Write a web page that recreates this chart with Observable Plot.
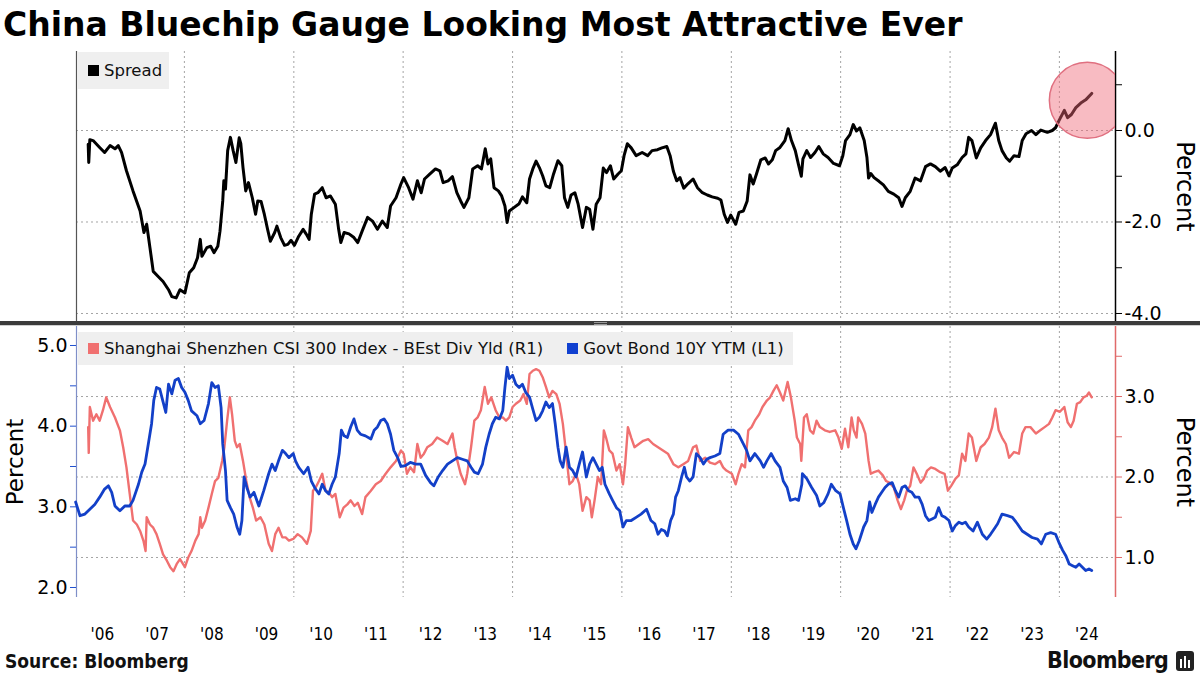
<!DOCTYPE html>
<html><head><meta charset="utf-8">
<script src="https://cdn.jsdelivr.net/npm/d3@7"></script>
<script src="https://cdn.jsdelivr.net/npm/@observablehq/plot@0.6"></script>
<style>
body{margin:0;background:#fff;}
#wrap{position:relative;width:1200px;height:675px;overflow:hidden;font-family:"DejaVu Sans",sans-serif;background:#fff;}
.abs{position:absolute;}
.leg{position:absolute;background:#efefef;font-size:16.5px;color:#111;display:flex;align-items:center;white-space:nowrap;}
.sw{display:inline-block;width:11px;height:11px;margin:0 5px 0 10px;}
</style></head><body><div id="wrap">
<div class="abs" style="left:3px;top:8px;font-size:33px;line-height:33px;font-weight:bold;color:#000;white-space:nowrap;">China Bluechip Gauge Looking Most Attractive Ever</div>
<div id="topChart" class="abs" style="left:0;top:45px;"></div>
<div id="botRed" class="abs" style="left:0;top:320px;"></div>
<div id="botBlue" class="abs" style="left:0;top:320px;"></div>
<div class="abs" style="left:0;top:321px;width:1200px;height:4px;background:#3b3b3b;"></div>
<div class="abs" style="left:0;top:325px;width:1200px;height:1px;background:#cfcfcf;"></div>
<div class="abs" style="left:594px;top:322px;width:13px;height:1px;background:#999;"></div>
<div class="abs" style="left:594px;top:324px;width:13px;height:1px;background:#999;"></div>
<div class="leg" style="left:78px;top:52px;width:91px;height:37px;"><span class="sw" style="background:#000"></span>Spread</div>
<div class="leg" style="left:78px;top:332px;width:715px;height:33px;"><span class="sw" style="background:#f07070"></span>Shanghai Shenzhen CSI 300 Index - BEst Div Yld (R1)<span class="sw" style="background:#1040d0;margin-left:24px"></span>Govt Bond 10Y YTM (L1)</div>
<div class="abs" style="left:5px;top:650px;font-family:'DejaVu Sans Condensed','DejaVu Sans';font-weight:bold;font-size:19px;color:#111;">Source: Bloomberg</div>
<div class="abs" style="left:1047px;top:647px;font-family:'DejaVu Sans Condensed','DejaVu Sans';font-weight:bold;font-size:23px;color:#111;letter-spacing:-0.6px;">Bloomberg</div>
<svg class="abs" style="left:1176px;top:651px" width="20" height="22"><rect x="0" y="0" width="18" height="20" rx="3" fill="#222"/><rect x="4" y="8" width="2" height="9" fill="#fff"/><rect x="8" y="5" width="2" height="12" fill="#fff"/><rect x="12" y="9" width="2" height="8" fill="#fff"/></svg>
</div>
<script>
// ---- data (decimal year, value) ----
const spread = [[2006.24,-0.30],[2006.25,-0.70],[2006.27,-0.20],[2006.33,-0.22],[2006.45,-0.37],[2006.54,-0.48],[2006.64,-0.33],[2006.73,-0.40],[2006.79,-0.33],[2006.85,-0.48],[2006.94,-0.88],[2007.06,-1.32],[2007.19,-1.76],[2007.26,-2.23],[2007.31,-2.05],[2007.37,-2.56],[2007.43,-3.08],[2007.52,-3.19],[2007.61,-3.30],[2007.71,-3.48],[2007.77,-3.63],[2007.85,-3.66],[2007.92,-3.48],[2008.01,-3.55],[2008.09,-3.11],[2008.17,-3.00],[2008.24,-2.78],[2008.29,-2.38],[2008.32,-2.75],[2008.41,-2.56],[2008.48,-2.53],[2008.54,-2.67],[2008.61,-2.53],[2008.65,-2.20],[2008.70,-1.54],[2008.72,-1.10],[2008.75,-1.28],[2008.79,-0.44],[2008.84,-0.15],[2008.89,-0.44],[2008.94,-0.70],[2009.00,-0.16],[2009.03,-0.29],[2009.07,-0.81],[2009.12,-1.32],[2009.17,-1.14],[2009.24,-1.47],[2009.30,-1.83],[2009.34,-1.54],[2009.40,-1.55],[2009.46,-1.83],[2009.52,-2.16],[2009.57,-2.42],[2009.65,-2.23],[2009.69,-2.09],[2009.76,-2.34],[2009.83,-2.51],[2009.89,-2.49],[2009.95,-2.40],[2010.01,-2.51],[2010.09,-2.31],[2010.17,-2.16],[2010.23,-2.27],[2010.28,-2.38],[2010.32,-1.83],[2010.38,-1.39],[2010.44,-1.36],[2010.52,-1.25],[2010.59,-1.47],[2010.67,-1.43],[2010.76,-1.61],[2010.82,-2.16],[2010.86,-2.45],[2010.92,-2.23],[2011.01,-2.26],[2011.10,-2.34],[2011.17,-2.45],[2011.25,-2.20],[2011.35,-1.90],[2011.44,-1.98],[2011.53,-2.16],[2011.62,-1.98],[2011.71,-2.12],[2011.77,-1.65],[2011.87,-1.47],[2011.96,-1.17],[2012.01,-1.03],[2012.10,-1.25],[2012.18,-1.50],[2012.26,-1.10],[2012.33,-1.36],[2012.39,-1.06],[2012.49,-0.95],[2012.59,-0.84],[2012.67,-0.88],[2012.73,-1.14],[2012.82,-1.10],[2012.90,-1.01],[2012.98,-1.36],[2013.05,-1.54],[2013.11,-1.68],[2013.20,-1.47],[2013.27,-0.84],[2013.36,-0.77],[2013.43,-0.84],[2013.50,-0.40],[2013.55,-0.73],[2013.60,-0.62],[2013.66,-1.25],[2013.74,-1.32],[2013.80,-1.43],[2013.86,-1.65],[2013.90,-2.01],[2013.94,-1.76],[2014.03,-1.68],[2014.12,-1.60],[2014.18,-1.45],[2014.26,-1.58],[2014.31,-1.06],[2014.37,-0.84],[2014.43,-0.67],[2014.49,-0.81],[2014.55,-0.99],[2014.61,-1.21],[2014.68,-1.25],[2014.75,-0.95],[2014.83,-0.66],[2014.90,-0.77],[2014.95,-1.47],[2015.01,-1.68],[2015.07,-1.41],[2015.14,-1.36],[2015.20,-1.61],[2015.28,-2.12],[2015.35,-1.68],[2015.41,-1.72],[2015.47,-2.16],[2015.53,-1.61],[2015.60,-1.47],[2015.66,-0.82],[2015.72,-0.92],[2015.79,-0.77],[2015.85,-1.06],[2015.93,-0.95],[2015.99,-0.88],[2016.04,-0.55],[2016.10,-0.29],[2016.17,-0.38],[2016.26,-0.55],[2016.37,-0.48],[2016.47,-0.55],[2016.55,-0.44],[2016.65,-0.42],[2016.73,-0.38],[2016.82,-0.35],[2016.88,-0.55],[2016.94,-0.89],[2017.00,-1.10],[2017.06,-1.03],[2017.13,-1.26],[2017.21,-1.16],[2017.30,-1.06],[2017.38,-1.25],[2017.47,-1.36],[2017.56,-1.41],[2017.65,-1.45],[2017.75,-1.48],[2017.81,-1.52],[2017.87,-1.83],[2017.93,-2.01],[2017.99,-1.85],[2018.08,-2.05],[2018.14,-1.79],[2018.22,-1.76],[2018.29,-1.54],[2018.34,-0.97],[2018.40,-1.17],[2018.46,-0.95],[2018.54,-0.64],[2018.62,-0.60],[2018.68,-0.73],[2018.75,-0.64],[2018.81,-0.44],[2018.89,-0.37],[2018.98,-0.22],[2019.04,0.04],[2019.10,-0.22],[2019.17,-0.44],[2019.23,-0.75],[2019.28,-1.00],[2019.31,-0.62],[2019.38,-0.44],[2019.45,-0.59],[2019.53,-0.48],[2019.60,-0.35],[2019.68,-0.51],[2019.77,-0.59],[2019.87,-0.72],[2019.98,-0.77],[2020.04,-0.55],[2020.09,-0.22],[2020.17,-0.09],[2020.23,0.13],[2020.29,-0.01],[2020.35,0.06],[2020.43,-0.22],[2020.48,-0.59],[2020.51,-1.04],[2020.55,-0.94],[2020.61,-1.03],[2020.70,-1.11],[2020.78,-1.19],[2020.87,-1.33],[2020.97,-1.39],[2021.06,-1.47],[2021.12,-1.66],[2021.18,-1.47],[2021.27,-1.33],[2021.36,-1.04],[2021.46,-1.10],[2021.55,-0.79],[2021.64,-0.73],[2021.73,-0.79],[2021.82,-0.89],[2021.91,-0.81],[2021.98,-0.99],[2022.04,-0.82],[2022.13,-0.75],[2022.22,-0.59],[2022.29,-0.51],[2022.34,-0.15],[2022.40,-0.22],[2022.48,-0.60],[2022.56,-0.38],[2022.65,-0.22],[2022.74,-0.09],[2022.83,0.16],[2022.89,-0.22],[2022.95,-0.44],[2023.03,-0.60],[2023.09,-0.67],[2023.17,-0.55],[2023.26,-0.57],[2023.32,-0.22],[2023.39,-0.07],[2023.49,0.00],[2023.57,-0.09],[2023.66,0.01],[2023.78,-0.04],[2023.87,0.00],[2023.93,0.06],[2023.99,0.21],[2024.09,0.44],[2024.15,0.28],[2024.22,0.35],[2024.30,0.50],[2024.39,0.60],[2024.48,0.67],[2024.59,0.81]];

const divYield = [[2006.24,2.62],[2006.25,2.30],[2006.27,2.87],[2006.33,2.70],[2006.39,2.78],[2006.45,2.70],[2006.51,2.83],[2006.57,2.99],[2006.64,2.87],[2006.73,2.74],[2006.82,2.58],[2006.88,2.37],[2006.94,2.12],[2007.00,1.79],[2007.06,1.46],[2007.13,1.41],[2007.19,1.33],[2007.25,1.21],[2007.29,1.08],[2007.31,1.50],[2007.37,1.41],[2007.43,1.37],[2007.49,1.29],[2007.55,1.17],[2007.61,1.04],[2007.68,0.96],[2007.74,0.88],[2007.80,0.83],[2007.86,0.92],[2007.92,0.98],[2008.01,0.88],[2008.07,1.00],[2008.13,1.08],[2008.20,1.21],[2008.26,1.29],[2008.29,1.50],[2008.32,1.37],[2008.38,1.46],[2008.44,1.62],[2008.50,1.79],[2008.56,1.95],[2008.62,1.99],[2008.69,2.20],[2008.73,2.37],[2008.78,2.70],[2008.83,2.99],[2008.87,2.78],[2008.92,2.45],[2008.96,2.37],[2009.01,2.41],[2009.07,2.20],[2009.13,1.95],[2009.19,1.75],[2009.25,1.62],[2009.31,1.46],[2009.39,1.50],[2009.46,1.41],[2009.54,1.17],[2009.60,1.08],[2009.66,1.29],[2009.72,1.37],[2009.79,1.25],[2009.85,1.25],[2009.91,1.21],[2009.99,1.23],[2010.07,1.29],[2010.15,1.25],[2010.24,1.17],[2010.31,1.33],[2010.35,1.83],[2010.40,1.87],[2010.46,1.95],[2010.52,2.04],[2010.58,1.83],[2010.64,1.81],[2010.70,1.75],[2010.76,1.79],[2010.84,1.50],[2010.91,1.62],[2010.98,1.66],[2011.04,1.71],[2011.11,1.64],[2011.17,1.68],[2011.25,1.54],[2011.31,1.75],[2011.41,1.83],[2011.50,1.91],[2011.59,1.95],[2011.68,2.04],[2011.77,2.12],[2011.87,2.20],[2011.96,2.33],[2012.01,2.29],[2012.07,2.04],[2012.13,2.12],[2012.20,2.06],[2012.26,2.41],[2012.32,2.24],[2012.38,2.29],[2012.44,2.37],[2012.53,2.41],[2012.62,2.49],[2012.72,2.45],[2012.81,2.41],[2012.90,2.54],[2012.94,2.37],[2012.99,2.20],[2013.05,2.04],[2013.13,1.91],[2013.17,2.04],[2013.24,2.37],[2013.30,2.70],[2013.36,2.74],[2013.42,2.83],[2013.49,3.12],[2013.55,2.91],[2013.61,2.99],[2013.69,2.83],[2013.76,2.74],[2013.82,2.74],[2013.88,2.70],[2013.94,2.74],[2014.00,2.87],[2014.06,2.91],[2014.14,2.95],[2014.20,3.03],[2014.26,2.91],[2014.31,3.28],[2014.37,3.32],[2014.43,3.34],[2014.49,3.32],[2014.55,3.24],[2014.61,3.12],[2014.67,2.99],[2014.73,3.07],[2014.80,3.03],[2014.86,2.91],[2014.92,2.66],[2014.98,2.29],[2015.04,1.91],[2015.10,1.95],[2015.16,2.04],[2015.22,1.91],[2015.28,1.58],[2015.35,1.75],[2015.41,1.71],[2015.45,1.50],[2015.50,1.71],[2015.56,2.00],[2015.62,1.91],[2015.67,2.58],[2015.71,2.49],[2015.77,2.33],[2015.83,2.29],[2015.90,2.08],[2015.96,2.16],[2016.02,1.91],[2016.06,2.16],[2016.11,2.62],[2016.17,2.49],[2016.23,2.37],[2016.31,2.41],[2016.39,2.45],[2016.48,2.47],[2016.57,2.41],[2016.66,2.37],[2016.75,2.33],[2016.84,2.29],[2016.94,2.16],[2017.03,2.12],[2017.12,2.16],[2017.21,2.20],[2017.30,2.37],[2017.36,2.39],[2017.43,2.20],[2017.52,2.24],[2017.61,2.18],[2017.70,2.16],[2017.79,2.20],[2017.85,2.12],[2017.91,2.08],[2018.01,2.04],[2018.08,1.91],[2018.13,2.04],[2018.19,2.16],[2018.25,2.12],[2018.31,2.58],[2018.37,2.62],[2018.43,2.70],[2018.51,2.78],[2018.57,2.87],[2018.65,2.95],[2018.71,2.99],[2018.77,3.07],[2018.83,3.14],[2018.89,3.05],[2018.95,2.95],[2019.03,3.18],[2019.09,2.99],[2019.16,2.70],[2019.20,2.49],[2019.26,2.41],[2019.28,2.20],[2019.33,2.74],[2019.38,2.78],[2019.44,2.58],[2019.50,2.54],[2019.56,2.70],[2019.62,2.62],[2019.71,2.58],[2019.80,2.56],[2019.90,2.58],[2019.96,2.49],[2020.02,2.35],[2020.08,2.60],[2020.14,2.37],[2020.20,2.74],[2020.24,2.58],[2020.29,2.49],[2020.32,2.74],[2020.39,2.66],[2020.45,2.54],[2020.51,2.20],[2020.55,2.04],[2020.61,2.06],[2020.69,2.08],[2020.77,2.02],[2020.83,1.95],[2020.89,1.93],[2020.97,1.87],[2021.04,1.71],[2021.10,1.60],[2021.16,1.71],[2021.21,1.83],[2021.27,1.89],[2021.33,2.12],[2021.39,2.04],[2021.46,1.93],[2021.52,1.98],[2021.58,2.08],[2021.65,2.12],[2021.73,2.10],[2021.82,2.06],[2021.90,2.04],[2021.96,1.83],[2022.02,1.89],[2022.10,1.98],[2022.16,2.02],[2022.22,2.29],[2022.28,2.20],[2022.34,2.54],[2022.40,2.49],[2022.48,2.20],[2022.56,2.37],[2022.63,2.41],[2022.71,2.49],[2022.77,2.62],[2022.83,2.85],[2022.89,2.58],[2022.95,2.49],[2023.02,2.41],[2023.08,2.24],[2023.17,2.31],[2023.26,2.29],[2023.32,2.54],[2023.38,2.62],[2023.47,2.62],[2023.57,2.54],[2023.65,2.58],[2023.73,2.62],[2023.81,2.66],[2023.87,2.74],[2023.93,2.83],[2024.01,2.81],[2024.09,2.87],[2024.15,2.68],[2024.21,2.62],[2024.26,2.70],[2024.32,2.91],[2024.38,2.93],[2024.44,2.99],[2024.50,3.01],[2024.54,3.05],[2024.59,2.99]];

const bondYield = [[2006.01,3.06],[2006.09,2.89],[2006.18,2.91],[2006.27,2.97],[2006.36,3.03],[2006.45,3.12],[2006.54,3.22],[2006.61,3.26],[2006.67,3.18],[2006.73,3.01],[2006.82,2.95],[2006.91,3.01],[2007.00,3.01],[2007.06,3.08],[2007.16,3.28],[2007.22,3.43],[2007.28,3.53],[2007.34,3.78],[2007.40,4.03],[2007.44,4.32],[2007.49,4.48],[2007.55,4.46],[2007.61,4.30],[2007.66,4.17],[2007.71,4.52],[2007.77,4.40],[2007.83,4.57],[2007.89,4.59],[2007.95,4.48],[2008.01,4.42],[2008.07,4.32],[2008.13,4.19],[2008.23,4.13],[2008.29,4.03],[2008.36,4.07],[2008.44,4.28],[2008.50,4.54],[2008.56,4.48],[2008.62,4.50],[2008.67,4.23],[2008.70,3.78],[2008.75,3.45],[2008.78,3.08],[2008.84,2.99],[2008.90,2.91],[2008.96,2.75],[2009.01,2.66],[2009.05,2.83],[2009.09,3.37],[2009.14,3.24],[2009.20,3.12],[2009.27,3.18],[2009.36,3.01],[2009.45,3.20],[2009.54,3.41],[2009.60,3.53],[2009.66,3.45],[2009.72,3.57],[2009.79,3.70],[2009.85,3.66],[2009.91,3.61],[2009.99,3.66],[2010.03,3.57],[2010.09,3.49],[2010.18,3.41],[2010.26,3.49],[2010.32,3.32],[2010.38,3.24],[2010.46,3.16],[2010.52,3.28],[2010.58,3.20],[2010.64,3.16],[2010.70,3.28],[2010.76,3.37],[2010.83,3.66],[2010.87,3.95],[2010.92,3.88],[2010.98,3.86],[2011.04,3.99],[2011.10,4.09],[2011.16,3.95],[2011.22,3.90],[2011.31,3.88],[2011.41,3.84],[2011.47,3.95],[2011.53,3.99],[2011.59,4.07],[2011.65,4.09],[2011.71,4.03],[2011.77,3.90],[2011.83,3.70],[2011.90,3.61],[2011.96,3.50],[2012.04,3.51],[2012.13,3.55],[2012.23,3.53],[2012.32,3.53],[2012.41,3.39],[2012.50,3.30],[2012.56,3.26],[2012.64,3.37],[2012.72,3.45],[2012.81,3.53],[2012.90,3.57],[2012.99,3.61],[2013.08,3.59],[2013.17,3.57],[2013.24,3.49],[2013.30,3.43],[2013.37,3.41],[2013.45,3.53],[2013.51,3.74],[2013.57,3.90],[2013.63,4.03],[2013.69,4.11],[2013.76,4.09],[2013.82,4.19],[2013.86,4.48],[2013.90,4.73],[2013.94,4.59],[2014.00,4.63],[2014.06,4.52],[2014.12,4.48],[2014.18,4.52],[2014.24,4.42],[2014.31,4.36],[2014.37,4.21],[2014.43,4.07],[2014.49,4.11],[2014.55,4.19],[2014.61,4.30],[2014.67,4.23],[2014.73,4.28],[2014.78,4.03],[2014.83,3.74],[2014.87,3.57],[2014.92,3.49],[2014.98,3.74],[2015.04,3.49],[2015.10,3.45],[2015.16,3.37],[2015.22,3.53],[2015.28,3.68],[2015.35,3.37],[2015.41,3.53],[2015.47,3.61],[2015.53,3.53],[2015.59,3.45],[2015.64,3.49],[2015.69,3.28],[2015.77,3.16],[2015.83,3.08],[2015.90,2.99],[2015.96,2.95],[2016.02,2.75],[2016.08,2.83],[2016.17,2.83],[2016.26,2.87],[2016.35,2.91],[2016.45,2.97],[2016.53,2.83],[2016.60,2.79],[2016.66,2.66],[2016.72,2.72],[2016.78,2.70],[2016.83,2.64],[2016.89,2.83],[2016.94,2.91],[2016.98,3.12],[2017.03,3.20],[2017.09,3.37],[2017.14,3.49],[2017.18,3.37],[2017.24,3.32],[2017.30,3.37],[2017.36,3.66],[2017.43,3.61],[2017.49,3.53],[2017.55,3.59],[2017.61,3.61],[2017.70,3.63],[2017.79,3.66],[2017.85,3.90],[2017.94,3.95],[2018.04,3.95],[2018.13,3.90],[2018.22,3.78],[2018.28,3.70],[2018.34,3.57],[2018.43,3.66],[2018.53,3.57],[2018.59,3.49],[2018.65,3.57],[2018.73,3.66],[2018.80,3.57],[2018.89,3.49],[2018.95,3.32],[2019.02,3.24],[2019.08,3.08],[2019.17,3.10],[2019.23,3.08],[2019.29,3.28],[2019.30,3.41],[2019.38,3.35],[2019.47,3.24],[2019.56,3.14],[2019.62,3.01],[2019.69,3.05],[2019.77,3.16],[2019.83,3.28],[2019.91,3.20],[2019.99,3.16],[2020.05,2.99],[2020.11,2.83],[2020.17,2.66],[2020.23,2.54],[2020.28,2.48],[2020.34,2.58],[2020.42,2.75],[2020.48,2.83],[2020.53,3.06],[2020.57,2.93],[2020.63,3.03],[2020.69,3.12],[2020.75,3.18],[2020.81,3.24],[2020.87,3.28],[2020.94,3.30],[2021.00,3.20],[2021.06,3.12],[2021.12,3.24],[2021.18,3.26],[2021.24,3.20],[2021.30,3.18],[2021.36,3.12],[2021.43,3.12],[2021.49,3.03],[2021.55,2.89],[2021.61,2.83],[2021.67,2.85],[2021.73,2.87],[2021.79,2.99],[2021.85,2.89],[2021.91,2.87],[2021.98,2.83],[2022.04,2.70],[2022.10,2.77],[2022.16,2.81],[2022.22,2.79],[2022.28,2.81],[2022.34,2.75],[2022.42,2.70],[2022.50,2.81],[2022.59,2.66],[2022.67,2.60],[2022.74,2.66],[2022.80,2.72],[2022.87,2.79],[2022.95,2.91],[2023.05,2.89],[2023.14,2.87],[2023.23,2.79],[2023.32,2.70],[2023.41,2.66],[2023.50,2.62],[2023.60,2.60],[2023.67,2.54],[2023.75,2.66],[2023.84,2.68],[2023.93,2.66],[2023.99,2.56],[2024.06,2.46],[2024.12,2.39],[2024.18,2.29],[2024.24,2.27],[2024.30,2.25],[2024.36,2.29],[2024.42,2.25],[2024.48,2.21],[2024.54,2.23],[2024.59,2.21]];

const highlight = [[2024.51, 0.66]];
const gridYears = [2008, 2010, 2012, 2014, 2016, 2018, 2020, 2022, 2024];
const labelYears = [2006,2007,2008,2009,2010,2011,2012,2013,2014,2015,2016,2017,2018,2019,2020,2021,2022,2023,2024];
const spreadTicks = [-4, -3, -2, -1, 0, 1];
const divTicks = [1, 1.5, 2, 2.5, 3, 3.5];
const bondTicks = [2, 2.5, 3, 3.5, 4, 4.5, 5];

// ---- helpers ----
function toDate(y) {
  const yr = Math.floor(y);
  const a = Date.UTC(yr, 0, 1), b = Date.UTC(yr + 1, 0, 1);
  return new Date(a + (y - yr) * (b - a));
}
const X = d => toDate(d[0]);
const Y = d => d[1];
const xDomain = [toDate(2006.026), toDate(2025.024)];
const W = 1200, ML = 76, MR = 85;
const gridDates = gridYears.map(toDate);
const gridStyle = {stroke: "#9a9a9a", strokeDasharray: "2,3", strokeOpacity: 0.9, strokeWidth: 1};
const baseStyle = {fontFamily: "DejaVu Sans", fontSize: "18px", background: "transparent", overflow: "visible", color: "#000"};

// ---- top panel: spread ----
const topPlot = Plot.plot({
  width: W, height: 280, marginTop: 6, marginBottom: 4, marginLeft: ML, marginRight: MR,
  style: baseStyle,
  x: {type: "utc", domain: xDomain, axis: null},
  y: {domain: [-4.175, 1.727], axis: null},
  marks: [
    Plot.gridX(gridDates, gridStyle),
    Plot.gridY([-4, -2, 0], gridStyle),
    Plot.ruleX([xDomain[0]], {stroke: "#555", strokeWidth: 1.2}),
    Plot.ruleX([xDomain[1]], {stroke: "#000", strokeWidth: 1.5}),
    Plot.axisY(spreadTicks, {anchor: "right", tickSize: 6, tickPadding: 3, fontSize: 19,
      tickFormat: d => (d % 2 === 0 ? d.toFixed(1) : ""), label: null}),
    Plot.text(["Percent"], {frameAnchor: "right", dx: 69, rotate: 90, fontSize: 24, textAnchor: "middle", fill: "#000"}),
    Plot.lineY(spread, {x: X, y: Y, stroke: "#000", strokeWidth: 3, strokeLinejoin: "round"}),
    Plot.dot(highlight, {x: X, y: Y, r: 38, fill: "#f06878", fillOpacity: 0.45, stroke: "#e07080", strokeWidth: 1.5, clip: true})
  ]
});
document.getElementById("topChart").append(topPlot);

// ---- bottom panel, right axis: dividend yield ----
const redPlot = Plot.plot({
  width: W, height: 332, marginTop: 6, marginBottom: 55, marginLeft: ML, marginRight: MR,
  style: baseStyle,
  x: {type: "utc", domain: xDomain, axis: null},
  y: {domain: [0.503, 3.87], axis: null},
  marks: [
    Plot.gridX(gridDates, gridStyle),
    Plot.gridY([1, 2, 3], gridStyle),
    Plot.ruleX([xDomain[1]], {stroke: "#e06a6a", strokeWidth: 1.5}),
    Plot.axisY(divTicks, {anchor: "right", tickSize: 6, tickPadding: 3, fontSize: 19, stroke: "#e06a6a", fill: "#000",
      tickFormat: d => (d % 1 === 0 ? d.toFixed(1) : ""), label: null}),
    Plot.text(["Percent"], {frameAnchor: "right", dx: 69, rotate: 90, fontSize: 24, textAnchor: "middle", fill: "#000"}),
    Plot.axisX(labelYears.map(y => toDate(y + 0.5)), {anchor: "bottom", tickSize: 0, tickPadding: 30, fontSize: 17,
      fontFamily: "DejaVu Sans Condensed", tickFormat: d => "'" + String(d.getUTCFullYear()).slice(2), label: null}),
    Plot.lineY(divYield, {x: X, y: Y, stroke: "#f07070", strokeWidth: 2.4, strokeLinejoin: "round"})
  ]
});
document.getElementById("botRed").append(redPlot);

// ---- bottom panel, left axis: 10Y bond yield ----
const bluePlot = Plot.plot({
  width: W, height: 332, marginTop: 6, marginBottom: 55, marginLeft: ML, marginRight: MR,
  style: baseStyle,
  x: {type: "utc", domain: xDomain, axis: null},
  y: {domain: [1.876, 5.2355], axis: null},
  marks: [
    Plot.ruleX([xDomain[0]], {stroke: "#7f8fc8", strokeWidth: 1.2}),
    Plot.axisY(bondTicks, {anchor: "left", tickSize: 6, tickPadding: 3, fontSize: 19, stroke: "#1f4fd0", fill: "#000",
      tickFormat: d => (d % 1 === 0 ? d.toFixed(1) : ""), label: null}),
    Plot.text(["Percent"], {frameAnchor: "left", dx: -61, rotate: -90, fontSize: 23, textAnchor: "middle", fill: "#000"}),
    Plot.lineY(bondYield, {x: X, y: Y, stroke: "#1340c8", strokeWidth: 2.8, strokeLinejoin: "round"})
  ]
});
document.getElementById("botBlue").append(bluePlot);
</script></body></html>
